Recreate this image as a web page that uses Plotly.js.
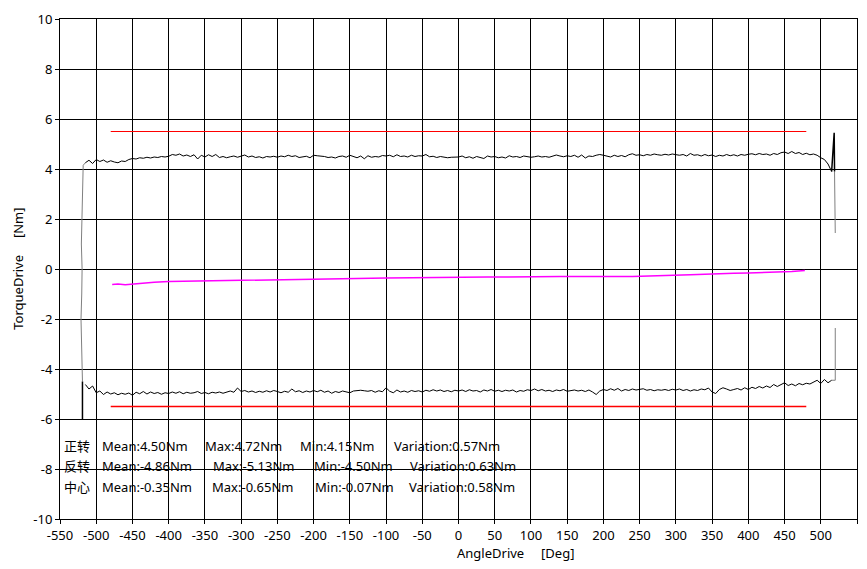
<!DOCTYPE html>
<html>
<head>
<meta charset="utf-8">
<script src="https://cdn.plot.ly/plotly-3.0.1.min.js"></script>
<style>html,body{margin:0;padding:0;background:#fff;}#chart{width:867px;height:569px;}</style>
</head>
<body>
<div id="chart"></div>
<script>
// Sample angles (deg) for the forward / reverse torque curves
const angles = [
-515,-510,-505,-500,-495,-490,-485,-480,-475,-470,-465,-460,-455,-450,-445,-440,-435,-430,-425,-420,
-415,-410,-405,-400,-395,-390,-385,-380,-375,-370,-365,-360,-355,-350,-345,-340,-335,-330,-325,-320,
-315,-310,-305,-300,-295,-290,-285,-280,-275,-270,-265,-260,-255,-250,-245,-240,-235,-230,-225,-220,
-215,-210,-205,-200,-195,-190,-185,-180,-175,-170,-165,-160,-155,-150,-145,-140,-135,-130,-125,-120,
-115,-110,-105,-100,-95,-90,-85,-80,-75,-70,-65,-60,-55,-50,-45,-40,-35,-30,-25,-20,
-15,-10,-5,0,5,10,15,20,25,30,35,40,45,50,55,60,65,70,75,80,
85,90,95,100,105,110,115,120,125,130,135,140,145,150,155,160,165,170,175,180,
185,190,195,200,205,210,215,220,225,230,235,240,245,250,255,260,265,270,275,280,
285,290,295,300,305,310,315,320,325,330,335,340,345,350,355,360,365,370,375,380,
385,390,395,400,405,410,415,420,425,430,435,440,445,450,455,460,465,470,475,480,
485,490,495,500,505,510,515];

// 正转 (forward) torque, Nm
const forwardTorque = [
4.25,4.35,4.22,4.38,4.30,4.36,4.27,4.33,4.28,4.25,4.32,4.30,4.38,4.42,4.40,4.45,4.43,4.47,4.44,4.48,
4.46,4.50,4.48,4.51,4.58,4.55,4.60,4.52,4.56,4.50,4.57,4.40,4.55,4.48,4.57,4.50,4.58,4.46,4.50,4.45,
4.49,4.52,4.47,4.50,4.56,4.48,4.52,4.46,4.49,4.44,4.50,4.48,4.51,4.47,4.52,4.49,4.55,4.50,4.53,4.46,
4.49,4.51,4.45,4.55,4.53,4.53,4.50,4.46,4.48,4.44,4.50,4.52,4.47,4.55,4.50,4.45,4.52,4.41,4.53,4.47,
4.50,4.48,4.54,4.52,4.55,4.49,4.57,4.50,4.52,4.48,4.55,4.50,4.53,4.52,4.58,4.49,4.51,4.46,4.50,4.48,
4.45,4.47,4.46,4.48,4.52,4.45,4.49,4.43,4.50,4.47,4.42,4.52,4.48,4.50,4.45,4.48,4.44,4.53,4.48,4.50,
4.46,4.52,4.50,4.47,4.49,4.52,4.48,4.50,4.47,4.50,4.56,4.52,4.49,4.53,4.50,4.55,4.47,4.56,4.44,4.52,
4.50,4.55,4.58,4.55,4.52,4.48,4.55,4.50,4.54,4.49,4.57,4.61,4.55,4.57,4.53,4.58,4.55,4.60,4.57,4.55,
4.59,4.56,4.60,4.57,4.55,4.58,4.52,4.62,4.55,4.57,4.52,4.58,4.53,4.56,4.50,4.55,4.52,4.58,4.53,4.57,
4.52,4.58,4.55,4.59,4.61,4.57,4.62,4.58,4.60,4.55,4.62,4.58,4.65,4.68,4.62,4.70,4.62,4.66,4.58,4.63,
4.57,4.60,4.55,4.45,4.38,4.20,3.90];

// 反转 (reverse) torque, Nm
const reverseTorque = [
-4.62,-4.80,-4.68,-4.95,-4.88,-5.02,-4.92,-5.00,-4.95,-5.03,-4.97,-5.01,-4.96,-5.05,-4.93,-4.99,-4.90,-5.00,-4.92,-4.98,
-4.94,-5.01,-4.95,-4.98,-4.92,-4.97,-4.91,-4.99,-4.93,-4.97,-4.95,-4.90,-4.98,-4.94,-4.99,-4.93,-4.96,-4.92,-4.97,-4.94,
-4.88,-4.93,-4.76,-4.90,-4.86,-4.92,-4.88,-4.94,-4.89,-4.93,-4.87,-4.92,-4.86,-4.90,-4.95,-4.89,-4.93,-4.80,-4.91,-4.87,
-4.94,-4.88,-4.92,-4.86,-4.91,-4.85,-4.93,-4.88,-4.97,-4.90,-4.94,-4.88,-4.92,-4.95,-4.88,-4.86,-4.85,-4.87,-4.89,-4.86,
-4.93,-4.87,-4.91,-4.75,-4.89,-4.95,-4.84,-4.92,-4.88,-4.93,-4.86,-4.90,-4.87,-4.92,-4.85,-4.89,-4.83,-4.88,-4.84,-4.90,
-4.86,-4.91,-4.85,-4.88,-4.84,-4.90,-4.83,-4.88,-4.86,-4.92,-4.84,-4.88,-4.82,-4.89,-4.85,-4.90,-4.85,-4.88,-4.84,-4.92,
-4.86,-4.89,-4.83,-4.86,-4.80,-4.87,-4.82,-4.88,-4.85,-4.90,-4.84,-4.87,-4.82,-4.89,-4.86,-4.84,-4.88,-4.85,-4.90,-4.84,
-4.92,-5.02,-4.88,-4.82,-4.86,-4.79,-4.85,-4.78,-4.88,-4.82,-4.86,-4.80,-4.84,-4.82,-4.79,-4.85,-4.82,-4.87,-4.83,-4.85,
-4.82,-4.86,-4.81,-4.84,-4.80,-4.86,-4.82,-4.88,-4.83,-4.86,-4.80,-4.83,-4.76,-4.92,-4.98,-4.82,-4.75,-4.80,-4.86,-4.82,
-4.78,-4.84,-4.75,-4.82,-4.73,-4.78,-4.70,-4.76,-4.68,-4.74,-4.62,-4.70,-4.64,-4.55,-4.66,-4.60,-4.67,-4.58,-4.63,-4.57,
-4.60,-4.54,-4.45,-4.58,-4.42,-4.55,-4.45];

// 中心 (centre) torque, Nm
const centerAngles = [-478,-470,-460,-440,-420,-400,-380,-360,-340,-320,-300,-280,-260,-240,-220,-200,-180,-160,-140,-120,-100,-80,-60,-40,-20,0,20,40,60,80,100,120,140,160,180,200,220,240,260,280,300,320,340,360,380,400,420,440,460,478];
const centerTorque = [-0.62,-0.60,-0.63,-0.57,-0.53,-0.50,-0.49,-0.47,-0.46,-0.44,-0.43,-0.42,-0.41,-0.40,-0.40,-0.39,-0.39,-0.38,-0.37,-0.37,-0.36,-0.35,-0.35,-0.34,-0.34,-0.33,-0.33,-0.32,-0.32,-0.31,-0.31,-0.30,-0.30,-0.30,-0.31,-0.31,-0.30,-0.30,-0.29,-0.27,-0.25,-0.23,-0.21,-0.18,-0.17,-0.16,-0.14,-0.13,-0.10,-0.06];

// Limit lines
const limitAngles = [-480, 480];
const upperLimit = [5.5, 5.5];
const lowerLimit = [-5.5, -5.5];

// Turnaround segments at the travel ends
const leftTurnDarkX = [-519, -519];
const leftTurnDarkY = [-6.0, -4.5];
const leftTurnX = [-519, -519.5, -520, -521, -520, -519.5, -520.5, -520, -519, -518.5, -518, -515];
const leftTurnY = [-4.5, -4.0, -3.0, -2.0, -1.0, 0.0, 1.0, 2.0, 3.0, 3.85, 4.15, 4.25];
const rightTurnX = [515, 518.5, 519];
const rightTurnY = [3.90, 5.45, 3.90];
const rightTurnGrayX = [519, 520];
const rightTurnGrayY = [3.90, 1.44];
const rightLowerX = [515, 520, 520];
const rightLowerY = [-4.45, -4.45, -2.36];

// Tick values
const xTicks = [-550,-500,-450,-400,-350,-300,-250,-200,-150,-100,-50,0,50,100,150,200,250,300,350,400,450,500,550];
const yTicks = [-10,-8,-6,-4,-2,0,2,4,6,8,10];

// Statistics text
const statRows = [
  ['正转', 'Mean:4.50Nm', 'Max:4.72Nm', 'Min:4.15Nm', 'Variation:0.57Nm'],
  ['反转', 'Mean:-4.86Nm', 'Max:-5.13Nm', 'Min:-4.50Nm', 'Variation:0.63Nm'],
  ['中心', 'Mean:-0.35Nm', 'Max:-0.65Nm', 'Min:-0.07Nm', 'Variation:0.58Nm']
];

const FONT = 'Noto Sans, "Noto Sans CJK SC", sans-serif';

function line(x, y, color, width) {
  return {x: x, y: y, type: 'scatter', mode: 'lines', line: {color: color, width: width}, hoverinfo: 'skip', showlegend: false};
}

const traces = [
  line(limitAngles, upperLimit, '#ff0000', 1.2),
  line(limitAngles, lowerLimit, '#ff0000', 1.5),
  line(centerAngles, centerTorque, '#ff00ff', 1.5),
  line(leftTurnX, leftTurnY, '#808080', 1),
  line(leftTurnDarkX, leftTurnDarkY, '#000000', 1.5),
  line(rightTurnGrayX, rightTurnGrayY, '#808080', 1),
  line(rightLowerX, rightLowerY, '#808080', 1),
  line(angles, forwardTorque, '#000000', 1),
  line(rightTurnX, rightTurnY, '#000000', 1.5),
  line(angles, reverseTorque, '#000000', 1)
];

// Statistic annotation positions (paper coords)
const colX = [
  [0.002, 0.050, 0.180, 0.299, 0.417],
  [0.002, 0.050, 0.189, 0.316, 0.437],
  [0.002, 0.050, 0.188, 0.317, 0.436]
];
const rowY = [0.147, 0.107, 0.065];

const annotations = [];
statRows.forEach((row, r) => {
  row.forEach((txt, c) => {
    annotations.push({
      xref: 'paper', yref: 'paper', x: colX[r][c], y: rowY[r],
      xanchor: 'left', yanchor: 'middle', showarrow: false,
      text: txt, font: {family: FONT, size: 13, color: '#000'}
    });
  });
});
annotations.push({
  xref: 'paper', yref: 'paper', x: 0.495, y: -0.068, xanchor: 'left', yanchor: 'middle',
  showarrow: false, text: 'AngleDrive\u00a0\u00a0\u00a0\u00a0\u00a0[Deg]',
  font: {family: FONT, size: 13, color: '#000'}
});
annotations.push({
  xref: 'paper', yref: 'paper', x: -0.053, y: 0.5, xanchor: 'center', yanchor: 'middle',
  textangle: -90, showarrow: false, text: 'TorqueDrive\u00a0\u00a0\u00a0\u00a0\u00a0[Nm]',
  font: {family: FONT, size: 13, color: '#000'}
});

const axisCommon = {
  showgrid: true, gridcolor: '#000000', gridwidth: 1,
  zeroline: false, showline: true, linecolor: '#000000', linewidth: 1, mirror: true,
  ticks: 'outside', ticklen: 4, tickcolor: '#000000', tickwidth: 1,
  tickfont: {family: FONT, size: 13, color: '#000'}
};

const layout = {
  width: 867, height: 569,
  margin: {l: 60, r: 10, t: 19, b: 50},
  paper_bgcolor: '#ffffff', plot_bgcolor: '#ffffff',
  showlegend: false,
  xaxis: Object.assign({}, axisCommon, {range: [-550, 550], tickmode: 'array', tickvals: xTicks, ticktext: xTicks.map(String)}),
  yaxis: Object.assign({}, axisCommon, {range: [-10, 10], tickmode: 'array', tickvals: yTicks, ticktext: yTicks.map(String)}),
  annotations: annotations,
  font: {family: FONT, color: '#000'}
};

Plotly.newPlot('chart', traces, layout, {displayModeBar: false, staticPlot: true});
</script>
</body>
</html>
